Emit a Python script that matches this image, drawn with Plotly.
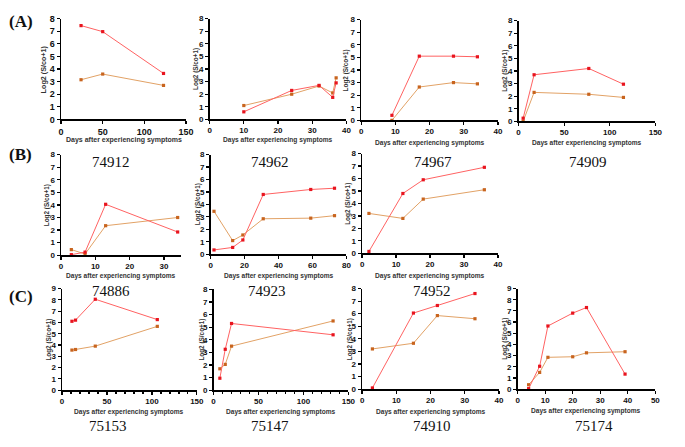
import plotly.graph_objects as go

W, H = 685, 447

# ---------------- data ----------------
panel_ids = ["74912", "74962", "74967", "74909",
             "74886", "74923", "74952",
             "75153", "75147", "74910", "75174"]

days_74912 = [24, 50, 123]
red_74912 = [7.45, 6.97, 3.65]
orange_74912 = [3.15, 3.6, 2.7]

days_74962 = [10, 24, 32, 36, 37]
red_74962 = [0.6, 2.3, 2.7, 1.75, 2.9]
orange_74962 = [1.1, 2.0, 2.65, 2.1, 3.3]

days_74967 = [9, 17, 27, 34]
red_74967 = [0.4, 5.1, 5.1, 5.05]
orange_74967 = [0.0, 2.65, 3.0, 2.9]

days_74909 = [5, 17, 77, 115]
red_74909 = [0.25, 3.7, 4.2, 2.95]
orange_74909 = [0.0, 2.3, 2.15, 1.9]

days_74886 = [3, 7, 13, 34]
red_74886 = [0.05, 0.25, 4.05, 1.85]
orange_74886 = [0.45, 0.1, 2.35, 3.0]

days_74923 = [2, 13, 19, 31, 59, 73]
red_74923 = [0.35, 0.55, 1.15, 4.8, 5.2, 5.3]
orange_74923 = [3.45, 1.1, 1.55, 2.85, 2.9, 3.1]

days_74952 = [2, 12, 18, 36]
red_74952 = [0.15, 4.8, 5.9, 6.9]
orange_74952 = [3.2, 2.8, 4.35, 5.1]

days_75153 = [11, 15, 37, 106]
red_75153 = [6.1, 6.2, 8.05, 6.25]
orange_75153 = [3.55, 3.6, 3.9, 5.65]

days_75147 = [7, 13, 20, 133]
red_75147 = [0.95, 3.25, 5.3, 4.4]
orange_75147 = [1.7, 2.05, 3.5, 5.5]

days_74910 = [3, 15, 22, 33]
red_74910 = [0.1, 6.05, 6.65, 7.6]
orange_74910 = [3.2, 3.65, 5.85, 5.6]

days_75174 = [4, 8, 11, 20, 25, 39]
red_75174 = [0.05, 2.05, 5.65, 6.8, 7.3, 1.35]
orange_75174 = [0.4, 1.5, 2.85, 2.9, 3.25, 3.35]

series = [
    (days_74912, red_74912, orange_74912),
    (days_74962, red_74962, orange_74962),
    (days_74967, red_74967, orange_74967),
    (days_74909, red_74909, orange_74909),
    (days_74886, red_74886, orange_74886),
    (days_74923, red_74923, orange_74923),
    (days_74952, red_74952, orange_74952),
    (days_75153, red_75153, orange_75153),
    (days_75147, red_75147, orange_75147),
    (days_74910, red_74910, orange_74910),
    (days_75174, red_75174, orange_75174),
]

x_max = [150, 40, 40, 150, 35, 80, 40, 150, 150, 40, 50]
x_step = [50, 10, 10, 50, 10, 20, 10, 50, 50, 10, 10]
y_max = [8, 8, 8, 8, 8, 8, 8, 9, 8, 8, 9]

x_title = "Days after experiencing symptoms"
y_title = "Log2 (S/co+1)"
panel_letters = ["(A)", "(B)", "(C)"]

# ---------------- layout (pixel geometry) ----------------
# (left, right, top, bottom) of each plot area in pixels
boxes = [
    (59, 186, 14, 117), (210, 349, 14, 117), (364, 503, 15, 118), (524, 663, 16, 119),
    (59, 181, 153, 256), (211, 349, 153, 255), (365, 503, 152, 254),
    (60, 197, 290, 394), (214, 351, 291, 394), (365, 504, 290, 393), (523, 663, 290, 393),
]
label_pos = [(110, 161), (271, 161), (437, 161), (595, 161),
             (110, 293), (268, 293), (436, 293),
             (107, 431), (271, 431), (436, 431), (601, 431)]
xtitle_y = [138, 138, 141, 141, 277, 277, 277, 416, 416, 416, 415]
ytitle_x = [41, 196, 349, 510, 45, 199, 351, 47, 202, 353, 510]
letter_pos = [(18, 17), (18, 153), (18, 298)]

RED_LINE, RED_MK = "#ff6262", "#e8141e"
OR_LINE, OR_MK = "#e2a266", "#c8641e"


def px(x):
    return x / W


def py(y):
    return 1 - y / H


fig = go.Figure()
layout = dict(width=W, height=H, margin=dict(l=0, r=0, t=0, b=0),
              plot_bgcolor="white", paper_bgcolor="white", showlegend=False)
annotations = []

for i, (d, r, o) in enumerate(series):
    n = i + 1
    xa, ya = (f"x{n}", f"y{n}") if n > 1 else ("x", "y")
    fig.add_trace(go.Scatter(x=d, y=o, mode="lines+markers", xaxis=xa, yaxis=ya,
                             line=dict(color=OR_LINE, width=1),
                             marker=dict(symbol="square", size=3.2, color=OR_MK),
                             cliponaxis=False, hoverinfo="skip"))
    fig.add_trace(go.Scatter(x=d, y=r, mode="lines+markers", xaxis=xa, yaxis=ya,
                             line=dict(color=RED_LINE, width=1),
                             marker=dict(symbol="square", size=3.2, color=RED_MK),
                             cliponaxis=False, hoverinfo="skip"))
    l, rr, t, b = boxes[i]
    fs = 9 if i == 0 else 8
    xkey = "xaxis" if n == 1 else f"xaxis{n}"
    ykey = "yaxis" if n == 1 else f"yaxis{n}"
    xdict = dict(domain=[px(l), px(rr)], range=[0, x_max[i]], dtick=x_step[i], tick0=0,
                 anchor=ya, showline=True, linecolor="black", linewidth=1.5,
                 ticks="outside", ticklen=3, tickwidth=1.3, tickcolor="black",
                 showgrid=False, zeroline=False,
                 tickfont=dict(family="Liberation Sans", size=fs, color="#111", weight=700))
    if i in (7, 8):
        xdict["minor"] = dict(ticks="outside", dtick=10, ticklen=2, tickcolor="black")
    layout[xkey] = xdict
    layout[ykey] = dict(domain=[py(b), py(t)], range=[0, y_max[i]], dtick=1, tick0=0,
                        anchor=xa, showline=True, linecolor="black", linewidth=1.5,
                        ticks="outside", ticklen=3, tickwidth=1.2, tickcolor="black",
                        showgrid=False, zeroline=False,
                        tickfont=dict(family="Liberation Sans", size=fs, color="#111", weight=700))
    annotations.append(dict(x=px((l + rr) / 2), y=py(xtitle_y[i]), xref="paper", yref="paper",
                            text=x_title, showarrow=False, xanchor="center", yanchor="middle",
                            font=dict(family="Liberation Sans", size=7 if i == 0 else 6.6,
                                      color="#333", weight=700)))
    annotations.append(dict(x=px(ytitle_x[i]), y=py((t + b) / 2), xref="paper", yref="paper",
                            text=y_title, showarrow=False, textangle=-90,
                            xanchor="center", yanchor="middle",
                            font=dict(family="Liberation Sans", size=7.2 if i == 0 else 6.4,
                                      color="#333", weight=700)))
    lx, ly = label_pos[i]
    annotations.append(dict(x=px(lx), y=py(ly), xref="paper", yref="paper",
                            text=panel_ids[i], showarrow=False, xanchor="center", yanchor="middle",
                            font=dict(family="Liberation Serif", size=15, color="#111")))

for letter, (lx, ly) in zip(panel_letters, letter_pos):
    annotations.append(dict(x=px(lx), y=py(ly), xref="paper", yref="paper",
                            text=letter, showarrow=False, xanchor="center", yanchor="middle",
                            font=dict(family="Liberation Serif", size=17, color="#111", weight=700)))

layout["annotations"] = annotations
fig.update_layout(**layout)
fig.write_html("out.html",
               config=dict(displayModeBar=False, staticPlot=True),
               post_script="document.body.style.margin='0px';"
                           "document.body.style.overflow='hidden';")
